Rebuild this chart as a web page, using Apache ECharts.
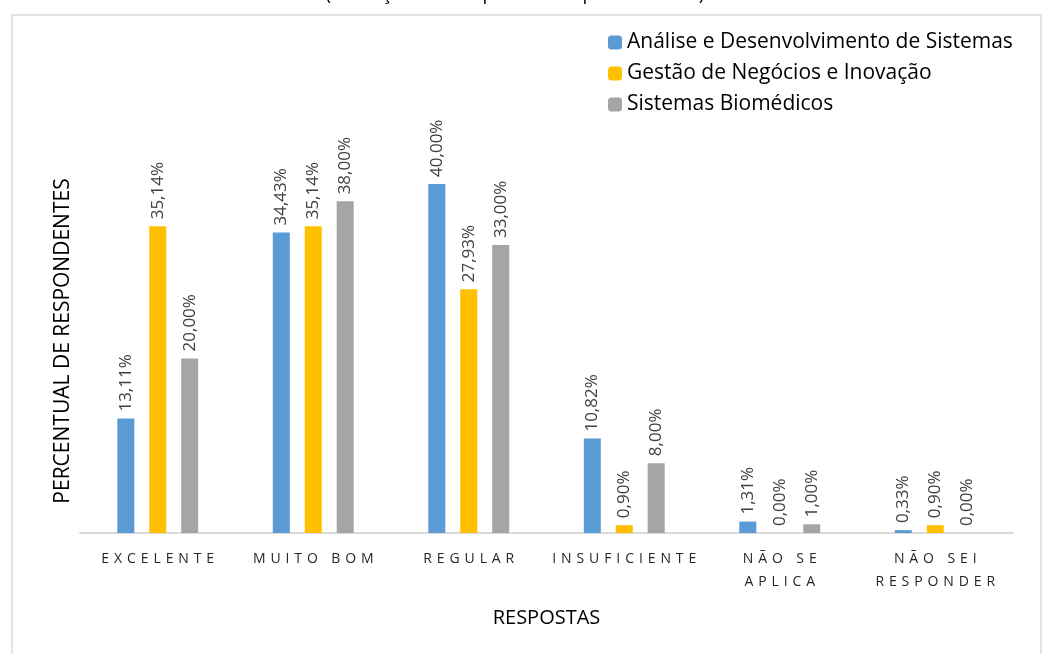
<!DOCTYPE html>
<html>
<head>
<meta charset="utf-8">
<script src="https://cdn.jsdelivr.net/npm/echarts@6/dist/echarts.min.js"></script>
<style>
  html, body { margin: 0; padding: 0; background: #fff; }
  #myChart { width: 1045px; height: 654px; }
</style>
</head>
<body>
<div id="myChart"></div>
<script>
// categorias e valores (%)
var categorias = ["EXCELENTE", "MUITO BOM", "REGULAR", "INSUFICIENTE", "NÃO SE\nAPLICA", "NÃO SEI\nRESPONDER"];
var cursos = ["Análise e Desenvolvimento de Sistemas", "Gestão de Negócios e Inovação", "Sistemas Biomédicos"];
var ads = [13.11, 34.43, 40.00, 10.82, 1.31, 0.33];
var gni = [35.14, 35.14, 27.93, 0.90, 0.00, 0.90];
var sb = [20.00, 38.00, 33.00, 8.00, 1.00, 0.00];
var cores = ["#5b9bd5", "#ffc000", "#a5a5a5"];

var fonte = "'Open Sans', 'Noto Sans', sans-serif";

function serie(nome, dados, cor) {
  return {
    name: nome,
    type: "bar",
    data: dados,
    barWidth: 17,
    barGap: "88%",
    itemStyle: { color: cor },
    label: {
      show: true,
      position: "top",
      rotate: 90,
      align: "left",
      verticalAlign: "middle",
      distance: 7,
      color: "#404040",
      fontFamily: fonte,
      fontSize: 17,
      formatter: function (p) { return p.value.toFixed(2).replace(".", ",") + "%"; }
    }
  };
}

var myChart = echarts.init(document.getElementById("myChart"));
var option = {
  animation: false,
  backgroundColor: "#fff",
  textStyle: { fontFamily: fonte },
  graphic: [
    {
      type: "rect",
      shape: { x: 12, y: 15, width: 1029, height: 660 },
      style: { fill: "none", stroke: "#d9d9d9", lineWidth: 1.5 }
    },
    {
      type: "text",
      x: 515, y: 4,
      style: {
        text: "(avaliação dos respondentes por curso etc)",
        textAlign: "center", textVerticalAlign: "bottom",
        font: "19px 'Open Sans', sans-serif", fill: "#000"
      }
    }
  ],
  legend: {
    orient: "vertical",
    left: 603,
    top: 27,
    itemWidth: 14,
    itemHeight: 14,
    itemGap: 10,
    textStyle: { fontFamily: fonte, fontSize: 21, color: "#000" },
    data: cursos
  },
  grid: { left: 80, right: 32, top: 149, bottom: 121 },
  xAxis: {
    type: "category",
    data: categorias,
    name: "RESPOSTAS",
    nameLocation: "middle",
    nameGap: 75,
    nameTextStyle: { fontFamily: fonte, fontSize: 20, color: "#000" },
    axisLine: { lineStyle: { color: "#d9d9d9", width: 2 } },
    axisTick: { show: false },
    axisLabel: {
      interval: 0,
      margin: 15,
      color: "#262626",
      fontFamily: fonte,
      fontSize: 14,
      lineHeight: 23,
      formatter: function (v) {
        // espaçamento entre letras
        var esp = "\u2005\u200A";
        return v.split("\n").map(function (l) {
          return l.split(" ").map(function (w) { return w.split("").join(esp); }).join(esp + " " + esp);
        }).join("\n");
      }
    }
  },
  yAxis: {
    type: "value",
    min: 0,
    max: 44,
    name: "PERCENTUAL DE RESPONDENTES",
    nameLocation: "middle",
    nameGap: 6,
    nameRotate: 90,
    nameTextStyle: { fontFamily: fonte, fontSize: 21, color: "#000" },
    axisLine: { show: false },
    axisTick: { show: false },
    axisLabel: { show: false },
    splitLine: { show: false }
  },
  series: [
    serie(cursos[0], ads, cores[0]),
    serie(cursos[1], gni, cores[1]),
    serie(cursos[2], sb, cores[2])
  ]
};
myChart.setOption(option);
</script>
</body>
</html>
